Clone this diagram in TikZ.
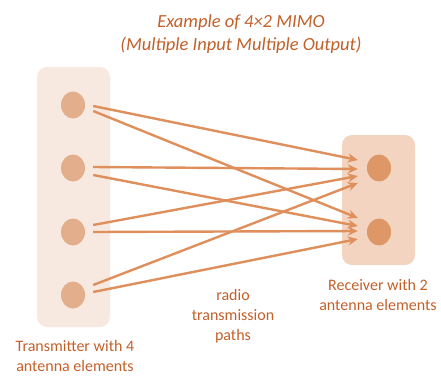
\documentclass[tikz,border=0pt]{standalone}
\usepackage{fontspec}
\setmainfont{Carlito}
\usetikzlibrary{arrows.meta,shapes.geometric}
\definecolor{txbox}{HTML}{F8E9E0}
\definecolor{rxbox}{HTML}{F3D4C0}
\definecolor{txant}{HTML}{E3AE8C}
\definecolor{rxant}{HTML}{DE9868}
\definecolor{link}{HTML}{DE8F5C}
\definecolor{label}{HTML}{C2602A}
\begin{document}
\begin{tikzpicture}[x=1pt,y=-1pt]
 \tikzstyle{panel}=[rounded corners=10pt,minimum width=73pt,inner sep=0pt];
 \tikzstyle{ant}=[ellipse,minimum width=24pt,minimum height=27pt,inner sep=0pt];
 \tikzstyle{caption}=[text=label,align=center,font=\fontsize{16}{20}\selectfont];
 \tikzstyle{link}=[draw=link,line width=2.4pt,-{Stealth[length=10pt,width=9pt]}];
    \useasboundingbox (0,0) rectangle (441,375);
    % antenna panels
    \node at (73.5,197) (tx) [panel,fill=txbox,minimum height=260pt] {};
    \node at (378.5,200) (rx) [panel,fill=rxbox,minimum height=130pt] {};
    % antenna elements
    \node at (73,105) (tx1) [ant,fill=txant] {};
    \node at (73,168) (tx2) [ant,fill=txant] {};
    \node at (73,232) (tx3) [ant,fill=txant] {};
    \node at (73,295) (tx4) [ant,fill=txant] {};
    \node at (379,168) (rx1) [ant,fill=rxant] {};
    \node at (379,232) (rx2) [ant,fill=rxant] {};
    % every tx element to every rx element
    \foreach \t/\r/\a/\b in {1/1/1/-8, 1/2/6/-14, 2/1/-1/1, 2/2/7/-6,
                             3/1/-7/8, 3/2/0/-1, 4/1/-10/15, 4/2/-3/7}
      \draw[link] ([shift={(8,\a)}]tx\t.east) -- ([shift={(-9,\b)}]rx\r.west);

    \node at (241,34) (title) [caption,font=\fontsize{18.5}{23}\selectfont\itshape]
      {Example of 4×2 MIMO\\(Multiple Input Multiple Output)};
    \node at (233,316) (paths) [caption] {radio\\transmission\\paths};
    \node at (75,356) (txlabel) [caption] {Transmitter with 4\\antenna elements};
    \node at (378,295) (rxlabel) [caption] {Receiver with 2\\antenna elements};
\end{tikzpicture}
\end{document}
